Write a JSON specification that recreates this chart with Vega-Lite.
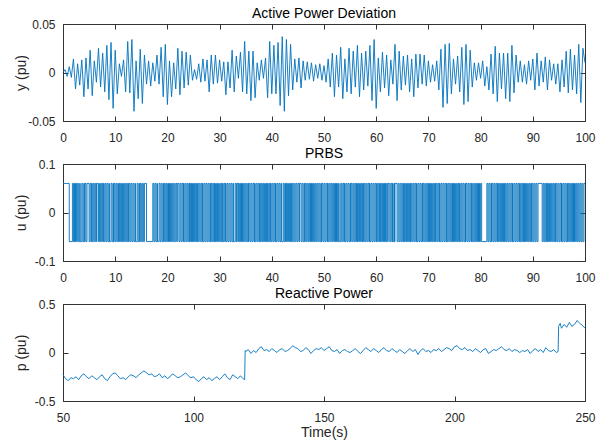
{
"$schema": "https://vega.github.io/schema/vega-lite/v6.json",
"padding": {"left": 13, "top": 6, "right": 5, "bottom": 0},
"datasets": {
"ap": [
{"t":0,"y":0},{"t":0.4,"y":0.003},{"t":0.8,"y":-0.004},{"t":1.2,"y":0.006},{"t":1.6,"y":-0.005},{"t":2.0,"y":0.014},{"t":2.4,"y":-0.017},{"t":2.8,"y":0.009},{"t":3.2,"y":-0.013},{"t":3.6,"y":0.013},{"t":4.0,"y":-0.025},{"t":4.4,"y":0.015},{"t":4.8,"y":-0.017},{"t":5.2,"y":0.023},{"t":5.6,"y":-0.024},{"t":6.0,"y":0.012},{"t":6.4,"y":-0.010},{"t":6.8,"y":0.025},{"t":7.2,"y":-0.015},{"t":7.6,"y":0.020},{"t":8.0,"y":-0.020},{"t":8.4,"y":0.028},{"t":8.8,"y":-0.028},{"t":9.2,"y":0.031},{"t":9.6,"y":-0.037},{"t":10.0,"y":0.023},{"t":10.4,"y":-0.022},{"t":10.8,"y":0.009},{"t":11.2,"y":-0.004},{"t":11.6,"y":0.013},{"t":12.0,"y":-0.020},{"t":12.4,"y":0.032},{"t":12.8,"y":-0.021},{"t":13.2,"y":0.034},{"t":13.6,"y":-0.040},{"t":14.0,"y":0.012},{"t":14.4,"y":-0.027},{"t":14.8,"y":0.024},{"t":15.2,"y":-0.032},{"t":15.6,"y":0.018},{"t":16.0,"y":-0.012},{"t":16.4,"y":0.012},{"t":16.8,"y":-0.014},{"t":17.2,"y":0.010},{"t":17.6,"y":-0.009},{"t":18.0,"y":0.018},{"t":18.4,"y":-0.012},{"t":18.8,"y":0.026},{"t":19.2,"y":-0.025},{"t":19.6,"y":0.029},{"t":20.0,"y":-0.033},{"t":20.4,"y":0.012},{"t":20.8,"y":-0.025},{"t":21.2,"y":0.010},{"t":21.6,"y":-0.017},{"t":22.0,"y":0.025},{"t":22.4,"y":-0.023},{"t":22.8,"y":0.022},{"t":23.2,"y":-0.016},{"t":23.6,"y":0.021},{"t":24.0,"y":-0.013},{"t":24.4,"y":0.018},{"t":24.8,"y":-0.008},{"t":25.2,"y":0.003},{"t":25.6,"y":-0.007},{"t":26.0,"y":0.009},{"t":26.4,"y":-0.010},{"t":26.8,"y":0.014},{"t":27.2,"y":-0.009},{"t":27.6,"y":0.013},{"t":28.0,"y":-0.020},{"t":28.4,"y":0.018},{"t":28.8,"y":-0.012},{"t":29.2,"y":0.018},{"t":29.6,"y":-0.011},{"t":30.0,"y":0.013},{"t":30.4,"y":-0.009},{"t":30.8,"y":0.011},{"t":31.2,"y":-0.023},{"t":31.6,"y":0.011},{"t":32.0,"y":-0.016},{"t":32.4,"y":0.023},{"t":32.8,"y":-0.020},{"t":33.2,"y":0.017},{"t":33.6,"y":-0.006},{"t":34.0,"y":0.021},{"t":34.4,"y":-0.020},{"t":34.8,"y":0.032},{"t":35.2,"y":-0.022},{"t":35.6,"y":0.022},{"t":36.0,"y":-0.029},{"t":36.4,"y":0.022},{"t":36.8,"y":-0.026},{"t":37.2,"y":0.010},{"t":37.6,"y":-0.008},{"t":38.0,"y":0.013},{"t":38.4,"y":-0.006},{"t":38.8,"y":0.015},{"t":39.2,"y":-0.026},{"t":39.6,"y":0.032},{"t":40.0,"y":-0.022},{"t":40.4,"y":0.028},{"t":40.8,"y":-0.022},{"t":41.2,"y":0.031},{"t":41.6,"y":-0.034},{"t":42.0,"y":0.037},{"t":42.4,"y":-0.040},{"t":42.8,"y":0.034},{"t":43.2,"y":-0.024},{"t":43.6,"y":0.029},{"t":44.0,"y":-0.018},{"t":44.4,"y":0.014},{"t":44.8,"y":-0.010},{"t":45.2,"y":0.015},{"t":45.6,"y":-0.016},{"t":46.0,"y":0.012},{"t":46.4,"y":-0.008},{"t":46.8,"y":0.011},{"t":47.2,"y":-0.007},{"t":47.6,"y":0.010},{"t":48.0,"y":-0.009},{"t":48.4,"y":0.008},{"t":48.8,"y":-0.006},{"t":49.2,"y":0.009},{"t":49.6,"y":-0.008},{"t":50.0,"y":0.007},{"t":50.4,"y":-0.010},{"t":50.8,"y":0.014},{"t":51.2,"y":-0.015},{"t":51.6,"y":0.020},{"t":52.0,"y":-0.025},{"t":52.4,"y":0.018},{"t":52.8,"y":-0.015},{"t":53.2,"y":0.026},{"t":53.6,"y":-0.027},{"t":54.0,"y":0.014},{"t":54.4,"y":-0.020},{"t":54.8,"y":0.025},{"t":55.2,"y":-0.022},{"t":55.6,"y":0.022},{"t":56.0,"y":-0.015},{"t":56.4,"y":0.028},{"t":56.8,"y":-0.025},{"t":57.2,"y":0.020},{"t":57.6,"y":-0.018},{"t":58.0,"y":0.022},{"t":58.4,"y":-0.014},{"t":58.8,"y":0.028},{"t":59.2,"y":-0.029},{"t":59.6,"y":0.034},{"t":60.0,"y":-0.037},{"t":60.4,"y":0.015},{"t":60.8,"y":-0.020},{"t":61.2,"y":0.021},{"t":61.6,"y":-0.016},{"t":62.0,"y":0.018},{"t":62.4,"y":-0.024},{"t":62.8,"y":0.013},{"t":63.2,"y":-0.012},{"t":63.6,"y":0.029},{"t":64.0,"y":-0.029},{"t":64.4,"y":0.022},{"t":64.8,"y":-0.018},{"t":65.2,"y":0.017},{"t":65.6,"y":-0.013},{"t":66.0,"y":0.018},{"t":66.4,"y":-0.020},{"t":66.8,"y":0.014},{"t":67.2,"y":-0.025},{"t":67.6,"y":0.019},{"t":68.0,"y":-0.016},{"t":68.4,"y":0.019},{"t":68.8,"y":-0.012},{"t":69.2,"y":0.018},{"t":69.6,"y":-0.014},{"t":70.0,"y":0.012},{"t":70.4,"y":-0.010},{"t":70.8,"y":0.008},{"t":71.2,"y":-0.009},{"t":71.6,"y":0.012},{"t":72.0,"y":-0.018},{"t":72.4,"y":0.024},{"t":72.8,"y":-0.036},{"t":73.2,"y":0.029},{"t":73.6,"y":-0.032},{"t":74.0,"y":0.030},{"t":74.4,"y":-0.022},{"t":74.8,"y":0.014},{"t":75.2,"y":-0.012},{"t":75.6,"y":0.017},{"t":76.0,"y":-0.020},{"t":76.4,"y":0.026},{"t":76.8,"y":-0.033},{"t":77.2,"y":0.029},{"t":77.6,"y":-0.030},{"t":78.0,"y":0.023},{"t":78.4,"y":-0.015},{"t":78.8,"y":0.010},{"t":79.2,"y":-0.008},{"t":79.6,"y":0.010},{"t":80.0,"y":-0.006},{"t":80.4,"y":0.012},{"t":80.8,"y":-0.014},{"t":81.2,"y":0.006},{"t":81.6,"y":-0.018},{"t":82.0,"y":0.019},{"t":82.4,"y":-0.022},{"t":82.8,"y":0.027},{"t":83.2,"y":-0.030},{"t":83.6,"y":0.020},{"t":84.0,"y":-0.017},{"t":84.4,"y":0.020},{"t":84.8,"y":-0.027},{"t":85.2,"y":0.020},{"t":85.6,"y":-0.030},{"t":86.0,"y":0.028},{"t":86.4,"y":-0.021},{"t":86.8,"y":0.018},{"t":87.2,"y":-0.010},{"t":87.6,"y":0.012},{"t":88.0,"y":-0.010},{"t":88.4,"y":0.008},{"t":88.8,"y":-0.012},{"t":89.2,"y":0.012},{"t":89.6,"y":-0.008},{"t":90.0,"y":0.014},{"t":90.4,"y":-0.018},{"t":90.8,"y":0.020},{"t":91.2,"y":-0.014},{"t":91.6,"y":0.012},{"t":92.0,"y":-0.010},{"t":92.4,"y":0.016},{"t":92.8,"y":-0.018},{"t":93.2,"y":0.013},{"t":93.6,"y":-0.008},{"t":94.0,"y":0.009},{"t":94.4,"y":-0.012},{"t":94.8,"y":0.009},{"t":95.2,"y":-0.020},{"t":95.6,"y":0.013},{"t":96.0,"y":-0.015},{"t":96.4,"y":0.022},{"t":96.8,"y":-0.021},{"t":97.2,"y":0.024},{"t":97.6,"y":-0.018},{"t":98.0,"y":0.018},{"t":98.4,"y":-0.022},{"t":98.8,"y":0.029},{"t":99.2,"y":-0.031},{"t":99.6,"y":0.025},{"t":100.0,"y":0.010}
],
"prbs": [
{"t":0,"u":0.06},{"t":1.2,"u":-0.06},{"t":1.8,"u":0.06},{"t":2.0,"u":-0.06},{"t":2.2,"u":0.06},{"t":2.6,"u":-0.06},{"t":2.8,"u":0.06},{"t":3.0,"u":-0.06},{"t":3.6,"u":0.06},{"t":3.8,"u":-0.06},{"t":4.0,"u":0.06},{"t":4.4,"u":-0.06},{"t":4.6,"u":0.06},{"t":5.0,"u":-0.06},{"t":5.2,"u":0.06},{"t":5.4,"u":-0.06},{"t":5.8,"u":0.06},{"t":6.0,"u":-0.06},{"t":6.2,"u":0.06},{"t":6.8,"u":-0.06},{"t":7.0,"u":0.06},{"t":7.2,"u":-0.06},{"t":7.4,"u":0.06},{"t":7.6,"u":-0.06},{"t":8.0,"u":0.06},{"t":8.2,"u":-0.06},{"t":8.4,"u":0.06},{"t":8.6,"u":-0.06},{"t":9.2,"u":0.06},{"t":9.4,"u":-0.06},{"t":9.6,"u":0.06},{"t":10.0,"u":-0.06},{"t":10.2,"u":0.06},{"t":10.4,"u":-0.06},{"t":10.6,"u":0.06},{"t":11.0,"u":-0.06},{"t":11.2,"u":0.06},{"t":11.4,"u":-0.06},{"t":11.6,"u":0.06},{"t":11.8,"u":-0.06},{"t":12.0,"u":0.06},{"t":12.2,"u":-0.06},{"t":12.4,"u":0.06},{"t":12.8,"u":-0.06},{"t":13.0,"u":0.06},{"t":13.2,"u":-0.06},{"t":13.4,"u":0.06},{"t":13.6,"u":-0.06},{"t":14.2,"u":0.06},{"t":14.4,"u":-0.06},{"t":14.6,"u":0.06},{"t":15.0,"u":-0.06},{"t":15.2,"u":0.06},{"t":15.4,"u":-0.06},{"t":15.6,"u":0.06},{"t":16.0,"u":-0.06},{"t":17.2,"u":0.06},{"t":17.4,"u":-0.06},{"t":17.6,"u":0.06},{"t":17.8,"u":-0.06},{"t":18.4,"u":0.06},{"t":18.6,"u":-0.06},{"t":18.8,"u":0.06},{"t":19.0,"u":-0.06},{"t":19.2,"u":0.06},{"t":19.6,"u":-0.06},{"t":19.8,"u":0.06},{"t":20.0,"u":-0.06},{"t":20.2,"u":0.06},{"t":20.6,"u":-0.06},{"t":20.8,"u":0.06},{"t":21.0,"u":-0.06},{"t":21.2,"u":0.06},{"t":21.4,"u":-0.06},{"t":21.6,"u":0.06},{"t":22.2,"u":-0.06},{"t":22.4,"u":0.06},{"t":22.6,"u":-0.06},{"t":22.8,"u":0.06},{"t":23.0,"u":-0.06},{"t":23.4,"u":0.06},{"t":23.6,"u":-0.06},{"t":23.8,"u":0.06},{"t":24.0,"u":-0.06},{"t":24.2,"u":0.06},{"t":24.6,"u":-0.06},{"t":25.0,"u":0.06},{"t":25.2,"u":-0.06},{"t":25.4,"u":0.06},{"t":25.6,"u":-0.06},{"t":26.0,"u":0.06},{"t":26.2,"u":-0.06},{"t":26.4,"u":0.06},{"t":26.6,"u":-0.06},{"t":27.0,"u":0.06},{"t":27.2,"u":-0.06},{"t":27.4,"u":0.06},{"t":27.6,"u":-0.06},{"t":27.8,"u":0.06},{"t":28.0,"u":-0.06},{"t":28.2,"u":0.06},{"t":28.6,"u":-0.06},{"t":28.8,"u":0.06},{"t":29.0,"u":-0.06},{"t":29.4,"u":0.06},{"t":29.6,"u":-0.06},{"t":29.8,"u":0.06},{"t":30.0,"u":-0.06},{"t":30.2,"u":0.06},{"t":30.4,"u":-0.06},{"t":30.8,"u":0.06},{"t":31.0,"u":-0.06},{"t":31.4,"u":0.06},{"t":31.6,"u":-0.06},{"t":31.8,"u":0.06},{"t":32.0,"u":-0.06},{"t":32.2,"u":0.06},{"t":32.4,"u":-0.06},{"t":33.0,"u":0.06},{"t":33.8,"u":-0.06},{"t":34.0,"u":0.06},{"t":34.2,"u":-0.06},{"t":34.6,"u":0.06},{"t":34.8,"u":-0.06},{"t":35.0,"u":0.06},{"t":35.2,"u":-0.06},{"t":35.4,"u":0.06},{"t":35.8,"u":-0.06},{"t":36.0,"u":0.06},{"t":36.2,"u":-0.06},{"t":36.4,"u":0.06},{"t":36.6,"u":-0.06},{"t":37.0,"u":0.06},{"t":37.2,"u":-0.06},{"t":37.4,"u":0.06},{"t":37.6,"u":-0.06},{"t":38.0,"u":0.06},{"t":38.2,"u":-0.06},{"t":38.4,"u":0.06},{"t":38.6,"u":-0.06},{"t":38.8,"u":0.06},{"t":39.0,"u":-0.06},{"t":39.4,"u":0.06},{"t":39.6,"u":-0.06},{"t":40.0,"u":0.06},{"t":40.2,"u":-0.06},{"t":40.4,"u":0.06},{"t":40.6,"u":-0.06},{"t":41.0,"u":0.06},{"t":41.2,"u":-0.06},{"t":41.4,"u":0.06},{"t":41.6,"u":-0.06},{"t":42.2,"u":0.06},{"t":42.4,"u":-0.06},{"t":42.6,"u":0.06},{"t":43.0,"u":-0.06},{"t":43.2,"u":0.06},{"t":43.4,"u":-0.06},{"t":43.6,"u":0.06},{"t":44.0,"u":-0.06},{"t":44.2,"u":0.06},{"t":44.4,"u":-0.06},{"t":44.6,"u":0.06},{"t":44.8,"u":-0.06},{"t":45.0,"u":0.06},{"t":45.6,"u":-0.06},{"t":45.8,"u":0.06},{"t":46.0,"u":-0.06},{"t":46.2,"u":0.06},{"t":46.6,"u":-0.06},{"t":46.8,"u":0.06},{"t":47.0,"u":-0.06},{"t":47.2,"u":0.06},{"t":47.4,"u":-0.06},{"t":47.8,"u":0.06},{"t":48.0,"u":-0.06},{"t":48.2,"u":0.06},{"t":48.4,"u":-0.06},{"t":48.6,"u":0.06},{"t":48.8,"u":-0.06},{"t":49.0,"u":0.06},{"t":49.2,"u":-0.06},{"t":49.4,"u":0.06},{"t":49.8,"u":-0.06},{"t":50.0,"u":0.06},{"t":50.2,"u":-0.06},{"t":50.4,"u":0.06},{"t":50.6,"u":-0.06},{"t":51.0,"u":0.06},{"t":51.2,"u":-0.06},{"t":51.4,"u":0.06},{"t":51.6,"u":-0.06},{"t":51.8,"u":0.06},{"t":52.0,"u":-0.06},{"t":52.2,"u":0.06},{"t":52.6,"u":-0.06},{"t":53.2,"u":0.06},{"t":53.4,"u":-0.06},{"t":53.6,"u":0.06},{"t":53.8,"u":-0.06},{"t":54.2,"u":0.06},{"t":54.4,"u":-0.06},{"t":54.6,"u":0.06},{"t":54.8,"u":-0.06},{"t":55.0,"u":0.06},{"t":55.4,"u":-0.06},{"t":55.6,"u":0.06},{"t":55.8,"u":-0.06},{"t":56.0,"u":0.06},{"t":56.2,"u":-0.06},{"t":56.6,"u":0.06},{"t":56.8,"u":-0.06},{"t":57.0,"u":0.06},{"t":57.2,"u":-0.06},{"t":57.4,"u":0.06},{"t":57.8,"u":-0.06},{"t":58.0,"u":0.06},{"t":58.2,"u":-0.06},{"t":58.4,"u":0.06},{"t":58.6,"u":-0.06},{"t":59.0,"u":0.06},{"t":59.2,"u":-0.06},{"t":59.4,"u":0.06},{"t":59.6,"u":-0.06},{"t":59.8,"u":0.06},{"t":60.0,"u":-0.06},{"t":60.4,"u":0.06},{"t":60.6,"u":-0.06},{"t":61.0,"u":0.06},{"t":61.2,"u":-0.06},{"t":61.4,"u":0.06},{"t":61.6,"u":-0.06},{"t":62.0,"u":0.06},{"t":62.6,"u":-0.06},{"t":62.8,"u":0.06},{"t":63.0,"u":-0.06},{"t":63.4,"u":0.06},{"t":64.0,"u":-0.06},{"t":64.2,"u":0.06},{"t":64.4,"u":-0.06},{"t":64.6,"u":0.06},{"t":64.8,"u":-0.06},{"t":65.0,"u":0.06},{"t":65.2,"u":-0.06},{"t":65.6,"u":0.06},{"t":65.8,"u":-0.06},{"t":66.0,"u":0.06},{"t":66.2,"u":-0.06},{"t":66.4,"u":0.06},{"t":66.8,"u":-0.06},{"t":67.0,"u":0.06},{"t":67.2,"u":-0.06},{"t":67.4,"u":0.06},{"t":67.6,"u":-0.06},{"t":68.0,"u":0.06},{"t":68.2,"u":-0.06},{"t":68.4,"u":0.06},{"t":68.6,"u":-0.06},{"t":68.8,"u":0.06},{"t":69.2,"u":-0.06},{"t":69.4,"u":0.06},{"t":69.6,"u":-0.06},{"t":69.8,"u":0.06},{"t":70.0,"u":-0.06},{"t":70.4,"u":0.06},{"t":70.6,"u":-0.06},{"t":70.8,"u":0.06},{"t":71.0,"u":-0.06},{"t":71.2,"u":0.06},{"t":71.6,"u":-0.06},{"t":71.8,"u":0.06},{"t":72.0,"u":-0.06},{"t":72.4,"u":0.06},{"t":72.6,"u":-0.06},{"t":72.8,"u":0.06},{"t":73.0,"u":-0.06},{"t":73.2,"u":0.06},{"t":73.4,"u":-0.06},{"t":73.8,"u":0.06},{"t":74.0,"u":-0.06},{"t":74.2,"u":0.06},{"t":74.4,"u":-0.06},{"t":74.6,"u":0.06},{"t":75.0,"u":-0.06},{"t":75.2,"u":0.06},{"t":75.4,"u":-0.06},{"t":75.6,"u":0.06},{"t":75.8,"u":-0.06},{"t":76.2,"u":0.06},{"t":76.4,"u":-0.06},{"t":76.6,"u":0.06},{"t":76.8,"u":-0.06},{"t":77.0,"u":0.06},{"t":77.4,"u":-0.06},{"t":77.6,"u":0.06},{"t":77.8,"u":-0.06},{"t":78.0,"u":0.06},{"t":78.2,"u":-0.06},{"t":78.6,"u":0.06},{"t":78.8,"u":-0.06},{"t":79.0,"u":0.06},{"t":79.2,"u":-0.06},{"t":79.4,"u":0.06},{"t":79.6,"u":-0.06},{"t":80.0,"u":0.06},{"t":80.2,"u":-0.06},{"t":81.2,"u":0.06},{"t":81.4,"u":-0.06},{"t":81.6,"u":0.06},{"t":81.8,"u":-0.06},{"t":82.0,"u":0.06},{"t":82.4,"u":-0.06},{"t":82.6,"u":0.06},{"t":82.8,"u":-0.06},{"t":83.0,"u":0.06},{"t":83.2,"u":-0.06},{"t":83.6,"u":0.06},{"t":83.8,"u":-0.06},{"t":84.0,"u":0.06},{"t":84.2,"u":-0.06},{"t":84.4,"u":0.06},{"t":84.8,"u":-0.06},{"t":85.0,"u":0.06},{"t":85.2,"u":-0.06},{"t":85.4,"u":0.06},{"t":85.6,"u":-0.06},{"t":85.8,"u":0.06},{"t":86.0,"u":-0.06},{"t":86.4,"u":0.06},{"t":86.6,"u":-0.06},{"t":86.8,"u":0.06},{"t":87.0,"u":-0.06},{"t":87.2,"u":0.06},{"t":87.4,"u":-0.06},{"t":87.8,"u":0.06},{"t":88.0,"u":-0.06},{"t":88.2,"u":0.06},{"t":88.6,"u":-0.06},{"t":88.8,"u":0.06},{"t":89.0,"u":-0.06},{"t":89.2,"u":0.06},{"t":89.4,"u":-0.06},{"t":89.6,"u":0.06},{"t":90.0,"u":-0.06},{"t":90.2,"u":0.06},{"t":90.4,"u":-0.06},{"t":90.6,"u":0.06},{"t":90.8,"u":-0.06},{"t":91.0,"u":0.06},{"t":91.8,"u":-0.06},{"t":92.0,"u":0.06},{"t":92.2,"u":-0.06},{"t":92.4,"u":0.06},{"t":92.6,"u":-0.06},{"t":93.0,"u":0.06},{"t":93.2,"u":-0.06},{"t":93.4,"u":0.06},{"t":93.6,"u":-0.06},{"t":93.8,"u":0.06},{"t":94.0,"u":-0.06},{"t":94.2,"u":0.06},{"t":94.6,"u":-0.06},{"t":94.8,"u":0.06},{"t":95.0,"u":-0.06},{"t":95.2,"u":0.06},{"t":95.4,"u":-0.06},{"t":95.8,"u":0.06},{"t":96.0,"u":-0.06},{"t":96.2,"u":0.06},{"t":96.4,"u":-0.06},{"t":96.6,"u":0.06},{"t":97.0,"u":-0.06},{"t":97.2,"u":0.06},{"t":97.4,"u":-0.06},{"t":97.6,"u":0.06},{"t":97.8,"u":-0.06},{"t":98.2,"u":0.06},{"t":98.4,"u":-0.06},{"t":98.6,"u":0.06},{"t":98.8,"u":-0.06},{"t":99.0,"u":0.06},{"t":99.2,"u":-0.06},{"t":99.4,"u":0.06},{"t":99.6,"u":-0.06},{"t":99.8,"u":0.06},{"t":100,"u":0.06},
{"t":2.3,"u":-0.06},{"t":2.4,"u":0.06},{"t":3.2,"u":0.06},{"t":3.3,"u":-0.06},{"t":4.1,"u":-0.06},{"t":4.2,"u":0.06},{"t":5.5,"u":0.06},{"t":5.6,"u":-0.06},{"t":6.4,"u":-0.06},{"t":6.5,"u":0.06},{"t":7.7,"u":0.06},{"t":7.8,"u":-0.06},{"t":8.8,"u":0.06},{"t":8.9,"u":-0.06},{"t":9.7,"u":-0.06},{"t":9.8,"u":0.06},{"t":10.7,"u":-0.06},{"t":10.8,"u":0.06},{"t":12.5,"u":-0.06},{"t":12.6,"u":0.06},{"t":13.8,"u":0.06},{"t":13.9,"u":-0.06},{"t":14.7,"u":-0.06},{"t":14.8,"u":0.06},{"t":18.0,"u":0.06},{"t":18.1,"u":-0.06},{"t":19.3,"u":-0.06},{"t":19.4,"u":0.06},{"t":20.3,"u":-0.06},{"t":20.4,"u":0.06},{"t":21.8,"u":-0.06},{"t":21.9,"u":0.06},{"t":23.1,"u":0.06},{"t":23.2,"u":-0.06},{"t":24.3,"u":-0.06},{"t":24.4,"u":0.06},{"t":24.7,"u":0.06},{"t":24.8,"u":-0.06},{"t":25.7,"u":0.06},{"t":25.8,"u":-0.06},{"t":26.7,"u":0.06},{"t":26.8,"u":-0.06},{"t":28.3,"u":-0.06},{"t":28.4,"u":0.06},{"t":29.1,"u":0.06},{"t":29.2,"u":-0.06},{"t":30.5,"u":0.06},{"t":30.6,"u":-0.06},{"t":31.1,"u":0.06},{"t":31.2,"u":-0.06},{"t":32.6,"u":0.06},{"t":32.7,"u":-0.06},{"t":33.2,"u":-0.06},{"t":33.3,"u":0.06},{"t":33.5,"u":-0.06},{"t":33.6,"u":0.06},{"t":34.3,"u":0.06},{"t":34.4,"u":-0.06},{"t":35.5,"u":-0.06},{"t":35.6,"u":0.06},{"t":36.7,"u":0.06},{"t":36.8,"u":-0.06},{"t":37.7,"u":0.06},{"t":37.8,"u":-0.06},{"t":39.1,"u":0.06},{"t":39.2,"u":-0.06},{"t":39.7,"u":0.06},{"t":39.8,"u":-0.06},{"t":40.7,"u":0.06},{"t":40.8,"u":-0.06},{"t":41.8,"u":0.06},{"t":41.9,"u":-0.06},{"t":42.7,"u":-0.06},{"t":42.8,"u":0.06},{"t":43.7,"u":-0.06},{"t":43.8,"u":0.06},{"t":45.2,"u":-0.06},{"t":45.3,"u":0.06},{"t":46.3,"u":-0.06},{"t":46.4,"u":0.06},{"t":47.5,"u":0.06},{"t":47.6,"u":-0.06},{"t":49.5,"u":-0.06},{"t":49.6,"u":0.06},{"t":50.7,"u":0.06},{"t":50.8,"u":-0.06},{"t":52.3,"u":-0.06},{"t":52.4,"u":0.06},{"t":52.8,"u":0.06},{"t":52.9,"u":-0.06},{"t":53.9,"u":0.06},{"t":54.0,"u":-0.06},{"t":55.1,"u":-0.06},{"t":55.2,"u":0.06},{"t":56.3,"u":0.06},{"t":56.4,"u":-0.06},{"t":57.5,"u":-0.06},{"t":57.6,"u":0.06},{"t":58.7,"u":0.06},{"t":58.8,"u":-0.06},{"t":60.1,"u":0.06},{"t":60.2,"u":-0.06},{"t":60.7,"u":0.06},{"t":60.8,"u":-0.06},{"t":61.7,"u":0.06},{"t":61.8,"u":-0.06},{"t":62.2,"u":-0.06},{"t":62.3,"u":0.06},{"t":63.1,"u":0.06},{"t":63.2,"u":-0.06},{"t":63.5,"u":-0.06},{"t":63.6,"u":0.06},{"t":65.3,"u":0.06},{"t":65.4,"u":-0.06},{"t":66.5,"u":-0.06},{"t":66.6,"u":0.06},{"t":67.7,"u":0.06},{"t":67.8,"u":-0.06},{"t":68.9,"u":-0.06},{"t":69.0,"u":0.06},{"t":70.1,"u":0.06},{"t":70.2,"u":-0.06},{"t":71.3,"u":-0.06},{"t":71.4,"u":0.06},{"t":72.1,"u":0.06},{"t":72.2,"u":-0.06},{"t":73.5,"u":0.06},{"t":73.6,"u":-0.06},{"t":74.7,"u":-0.06},{"t":74.8,"u":0.06},{"t":75.9,"u":0.06},{"t":76.0,"u":-0.06},{"t":77.1,"u":-0.06},{"t":77.2,"u":0.06},{"t":78.3,"u":0.06},{"t":78.4,"u":-0.06},{"t":79.7,"u":0.06},{"t":79.8,"u":-0.06},{"t":82.1,"u":-0.06},{"t":82.2,"u":0.06},{"t":83.3,"u":0.06},{"t":83.4,"u":-0.06},{"t":84.5,"u":-0.06},{"t":84.6,"u":0.06},{"t":86.1,"u":0.06},{"t":86.2,"u":-0.06},{"t":87.5,"u":0.06},{"t":87.6,"u":-0.06},{"t":88.3,"u":-0.06},{"t":88.4,"u":0.06},{"t":89.7,"u":-0.06},{"t":89.8,"u":0.06},{"t":92.7,"u":0.06},{"t":92.8,"u":-0.06},{"t":94.3,"u":-0.06},{"t":94.4,"u":0.06},{"t":95.5,"u":0.06},{"t":95.6,"u":-0.06},{"t":96.7,"u":-0.06},{"t":96.8,"u":0.06},{"t":97.9,"u":0.06},{"t":98.0,"u":-0.06}
],
"rp": [
{"t":50,"p":-0.23},{"t":51,"p":-0.27},{"t":52,"p":-0.29},{"t":53,"p":-0.26},{"t":54,"p":-0.27},{"t":55,"p":-0.25},{"t":56,"p":-0.28},{"t":57,"p":-0.24},{"t":58,"p":-0.22},{"t":59,"p":-0.25},{"t":60,"p":-0.27},{"t":61,"p":-0.24},{"t":62,"p":-0.26},{"t":63,"p":-0.28},{"t":64,"p":-0.25},{"t":65,"p":-0.23},{"t":66,"p":-0.27},{"t":67,"p":-0.29},{"t":68,"p":-0.25},{"t":69,"p":-0.22},{"t":70,"p":-0.21},{"t":71,"p":-0.24},{"t":72,"p":-0.27},{"t":73,"p":-0.26},{"t":74,"p":-0.28},{"t":75,"p":-0.25},{"t":76,"p":-0.23},{"t":77,"p":-0.24},{"t":78,"p":-0.26},{"t":79,"p":-0.23},{"t":80,"p":-0.21},{"t":81,"p":-0.19},{"t":82,"p":-0.21},{"t":83,"p":-0.23},{"t":84,"p":-0.22},{"t":85,"p":-0.25},{"t":86,"p":-0.24},{"t":87,"p":-0.22},{"t":88,"p":-0.26},{"t":89,"p":-0.24},{"t":90,"p":-0.27},{"t":91,"p":-0.25},{"t":92,"p":-0.22},{"t":93,"p":-0.24},{"t":94,"p":-0.26},{"t":95,"p":-0.25},{"t":96,"p":-0.23},{"t":97,"p":-0.21},{"t":98,"p":-0.24},{"t":99,"p":-0.26},{"t":100,"p":-0.25},{"t":101,"p":-0.28},{"t":102,"p":-0.30},{"t":103,"p":-0.27},{"t":104,"p":-0.25},{"t":105,"p":-0.28},{"t":106,"p":-0.26},{"t":107,"p":-0.29},{"t":108,"p":-0.27},{"t":109,"p":-0.25},{"t":110,"p":-0.28},{"t":111,"p":-0.25},{"t":112,"p":-0.22},{"t":113,"p":-0.26},{"t":114,"p":-0.28},{"t":115,"p":-0.23},{"t":116,"p":-0.25},{"t":117,"p":-0.27},{"t":118,"p":-0.24},{"t":119,"p":-0.27},{"t":119.6,"p":-0.28},{"t":119.8,"p":0.02},{"t":120,"p":0.01},{"t":121,"p":0.03},{"t":122,"p":-0.01},{"t":123,"p":0.02},{"t":124,"p":0.00},{"t":125,"p":0.04},{"t":126,"p":0.06},{"t":127,"p":0.02},{"t":128,"p":0.03},{"t":129,"p":0.01},{"t":130,"p":0.04},{"t":131,"p":0.02},{"t":132,"p":0.00},{"t":133,"p":0.03},{"t":134,"p":0.04},{"t":135,"p":0.01},{"t":136,"p":0.02},{"t":137,"p":0.04},{"t":138,"p":0.07},{"t":139,"p":0.05},{"t":140,"p":0.04},{"t":141,"p":0.01},{"t":142,"p":0.02},{"t":143,"p":0.05},{"t":144,"p":0.03},{"t":145,"p":-0.01},{"t":146,"p":0.02},{"t":147,"p":0.04},{"t":148,"p":0.03},{"t":149,"p":0.05},{"t":150,"p":0.02},{"t":151,"p":0.04},{"t":152,"p":0.06},{"t":153,"p":0.02},{"t":154,"p":0.01},{"t":155,"p":0.03},{"t":156,"p":-0.01},{"t":157,"p":0.02},{"t":158,"p":0.03},{"t":159,"p":0.01},{"t":160,"p":0.00},{"t":161,"p":0.02},{"t":162,"p":0.04},{"t":163,"p":0.01},{"t":164,"p":-0.01},{"t":165,"p":0.02},{"t":166,"p":0.05},{"t":167,"p":0.03},{"t":168,"p":0.01},{"t":169,"p":0.04},{"t":170,"p":0.02},{"t":171,"p":0.00},{"t":172,"p":0.03},{"t":173,"p":0.05},{"t":174,"p":0.02},{"t":175,"p":0.01},{"t":176,"p":0.04},{"t":177,"p":0.02},{"t":178,"p":0.00},{"t":179,"p":0.03},{"t":180,"p":0.01},{"t":181,"p":-0.01},{"t":182,"p":0.02},{"t":183,"p":0.04},{"t":184,"p":0.01},{"t":185,"p":0.03},{"t":186,"p":-0.02},{"t":187,"p":0.02},{"t":188,"p":0.04},{"t":189,"p":0.01},{"t":190,"p":0.02},{"t":191,"p":0.00},{"t":192,"p":0.03},{"t":193,"p":0.02},{"t":194,"p":0.04},{"t":195,"p":0.01},{"t":196,"p":0.03},{"t":197,"p":0.05},{"t":198,"p":0.04},{"t":199,"p":0.02},{"t":200,"p":0.06},{"t":201,"p":0.07},{"t":202,"p":0.04},{"t":203,"p":0.03},{"t":204,"p":0.05},{"t":205,"p":0.02},{"t":206,"p":0.03},{"t":207,"p":0.01},{"t":208,"p":0.04},{"t":209,"p":0.02},{"t":210,"p":0.00},{"t":211,"p":0.03},{"t":212,"p":0.04},{"t":213,"p":-0.01},{"t":214,"p":0.01},{"t":215,"p":0.03},{"t":216,"p":0.02},{"t":217,"p":0.04},{"t":218,"p":0.06},{"t":219,"p":0.03},{"t":220,"p":0.02},{"t":221,"p":0.04},{"t":222,"p":0.01},{"t":223,"p":0.03},{"t":224,"p":0.02},{"t":225,"p":0.00},{"t":226,"p":0.02},{"t":227,"p":0.01},{"t":228,"p":0.03},{"t":229,"p":-0.01},{"t":230,"p":0.02},{"t":231,"p":0.04},{"t":232,"p":0.01},{"t":233,"p":0.03},{"t":234,"p":0.00},{"t":235,"p":0.05},{"t":236,"p":0.02},{"t":237,"p":0.01},{"t":238,"p":0.03},{"t":239,"p":0.00},{"t":239.7,"p":0.01},{"t":239.9,"p":0.27},{"t":240.5,"p":0.30},{"t":241,"p":0.25},{"t":242,"p":0.29},{"t":243,"p":0.26},{"t":244,"p":0.31},{"t":245,"p":0.27},{"t":246,"p":0.29},{"t":247,"p":0.33},{"t":248,"p":0.30},{"t":249,"p":0.28},{"t":250,"p":0.25}
]
},
"vconcat": [
{
"width": 522, "height": 97,
"title": "Active Power Deviation",
"layer": [
{"data": {"name": "ap"}, "mark": {"type": "line", "color": "#0072BD", "strokeWidth": 0.9},
"encoding": {
"x": {"field": "t", "type": "quantitative", "scale": {"domain": [0, 100], "nice": false, "zero": false}, "axis": {"values": [0,10,20,30,40,50,60,70,80,90,100], "title": null}},
"y": {"field": "y", "type": "quantitative", "scale": {"domain": [-0.05, 0.05], "nice": false, "zero": false}, "axis": {"values": [-0.05, 0, 0.05], "title": "y (pu)", "labelExpr": "'' + datum.value"}}
}},
{"data": {"name": "ap"}, "mark": {"type": "line", "strokeOpacity": 0},
"encoding": {
"x": {"field": "t", "type": "quantitative", "axis": {"orient": "top", "values": [0,10,20,30,40,50,60,70,80,90,100], "labels": false, "title": null, "minExtent": 0, "maxExtent": 0}},
"y": {"field": "y", "type": "quantitative", "axis": {"orient": "right", "values": [-0.05, 0, 0.05], "labels": false, "title": null, "minExtent": 0, "maxExtent": 0}}
}}
],
"resolve": {"axis": {"x": "independent", "y": "independent"}}
},
{
"width": 522, "height": 97,
"title": "PRBS",
"layer": [
{"data": {"name": "prbs"}, "mark": {"type": "line", "color": "#0072BD", "strokeWidth": 0.9, "interpolate": "step-after"},
"encoding": {
"x": {"field": "t", "type": "quantitative", "scale": {"domain": [0, 100], "nice": false, "zero": false}, "axis": {"values": [0,10,20,30,40,50,60,70,80,90,100], "title": null}},
"y": {"field": "u", "type": "quantitative", "scale": {"domain": [-0.1, 0.1], "nice": false, "zero": false}, "axis": {"values": [-0.1, 0, 0.1], "title": "u (pu)", "labelExpr": "'' + datum.value"}}
}},
{"data": {"name": "prbs"}, "mark": {"type": "line", "strokeOpacity": 0},
"encoding": {
"x": {"field": "t", "type": "quantitative", "axis": {"orient": "top", "values": [0,10,20,30,40,50,60,70,80,90,100], "labels": false, "title": null, "minExtent": 0, "maxExtent": 0}},
"y": {"field": "u", "type": "quantitative", "axis": {"orient": "right", "values": [-0.1, 0, 0.1], "labels": false, "title": null, "minExtent": 0, "maxExtent": 0}}
}}
],
"resolve": {"axis": {"x": "independent", "y": "independent"}}
},
{
"width": 522, "height": 97,
"title": "Reactive Power",
"layer": [
{"data": {"name": "rp"}, "mark": {"type": "line", "color": "#0072BD", "strokeWidth": 0.9},
"encoding": {
"x": {"field": "t", "type": "quantitative", "scale": {"domain": [50, 250], "nice": false, "zero": false}, "axis": {"values": [50,100,150,200,250], "title": "Time(s)"}},
"y": {"field": "p", "type": "quantitative", "scale": {"domain": [-0.5, 0.5], "nice": false, "zero": false}, "axis": {"values": [-0.5, 0, 0.5], "title": "p (pu)", "labelExpr": "'' + datum.value"}}
}},
{"data": {"name": "rp"}, "mark": {"type": "line", "strokeOpacity": 0},
"encoding": {
"x": {"field": "t", "type": "quantitative", "axis": {"orient": "top", "values": [50,100,150,200,250], "labels": false, "title": null, "minExtent": 0, "maxExtent": 0}},
"y": {"field": "p", "type": "quantitative", "axis": {"orient": "right", "values": [-0.5, 0, 0.5], "labels": false, "title": null, "minExtent": 0, "maxExtent": 0}}
}}
],
"resolve": {"axis": {"x": "independent", "y": "independent"}}
}
],
"config": {
"font": "Liberation Sans",
"view": {"stroke": "#333333", "strokeWidth": 1},
"concat": {"spacing": 2},
"axis": {"grid": false, "domain": false, "ticks": true, "tickSize": 5, "offset": -5, "tickColor": "#333333", "tickWidth": 1, "labelFontSize": 12, "labelColor": "#262626", "labelFont": "Liberation Sans", "labelFlush": false, "titleFont": "Liberation Sans", "titleFontSize": 14, "titleFontWeight": "normal", "titleColor": "#262626", "titlePadding": 2},
"axisX": {"labelPadding": 11},
"axisY": {"labelPadding": 8, "minExtent": 38, "maxExtent": 38},
"title": {"fontSize": 14, "fontWeight": "normal", "font": "Liberation Sans", "color": "#000000", "anchor": "middle", "frame": "group", "offset": -3}
}
}
